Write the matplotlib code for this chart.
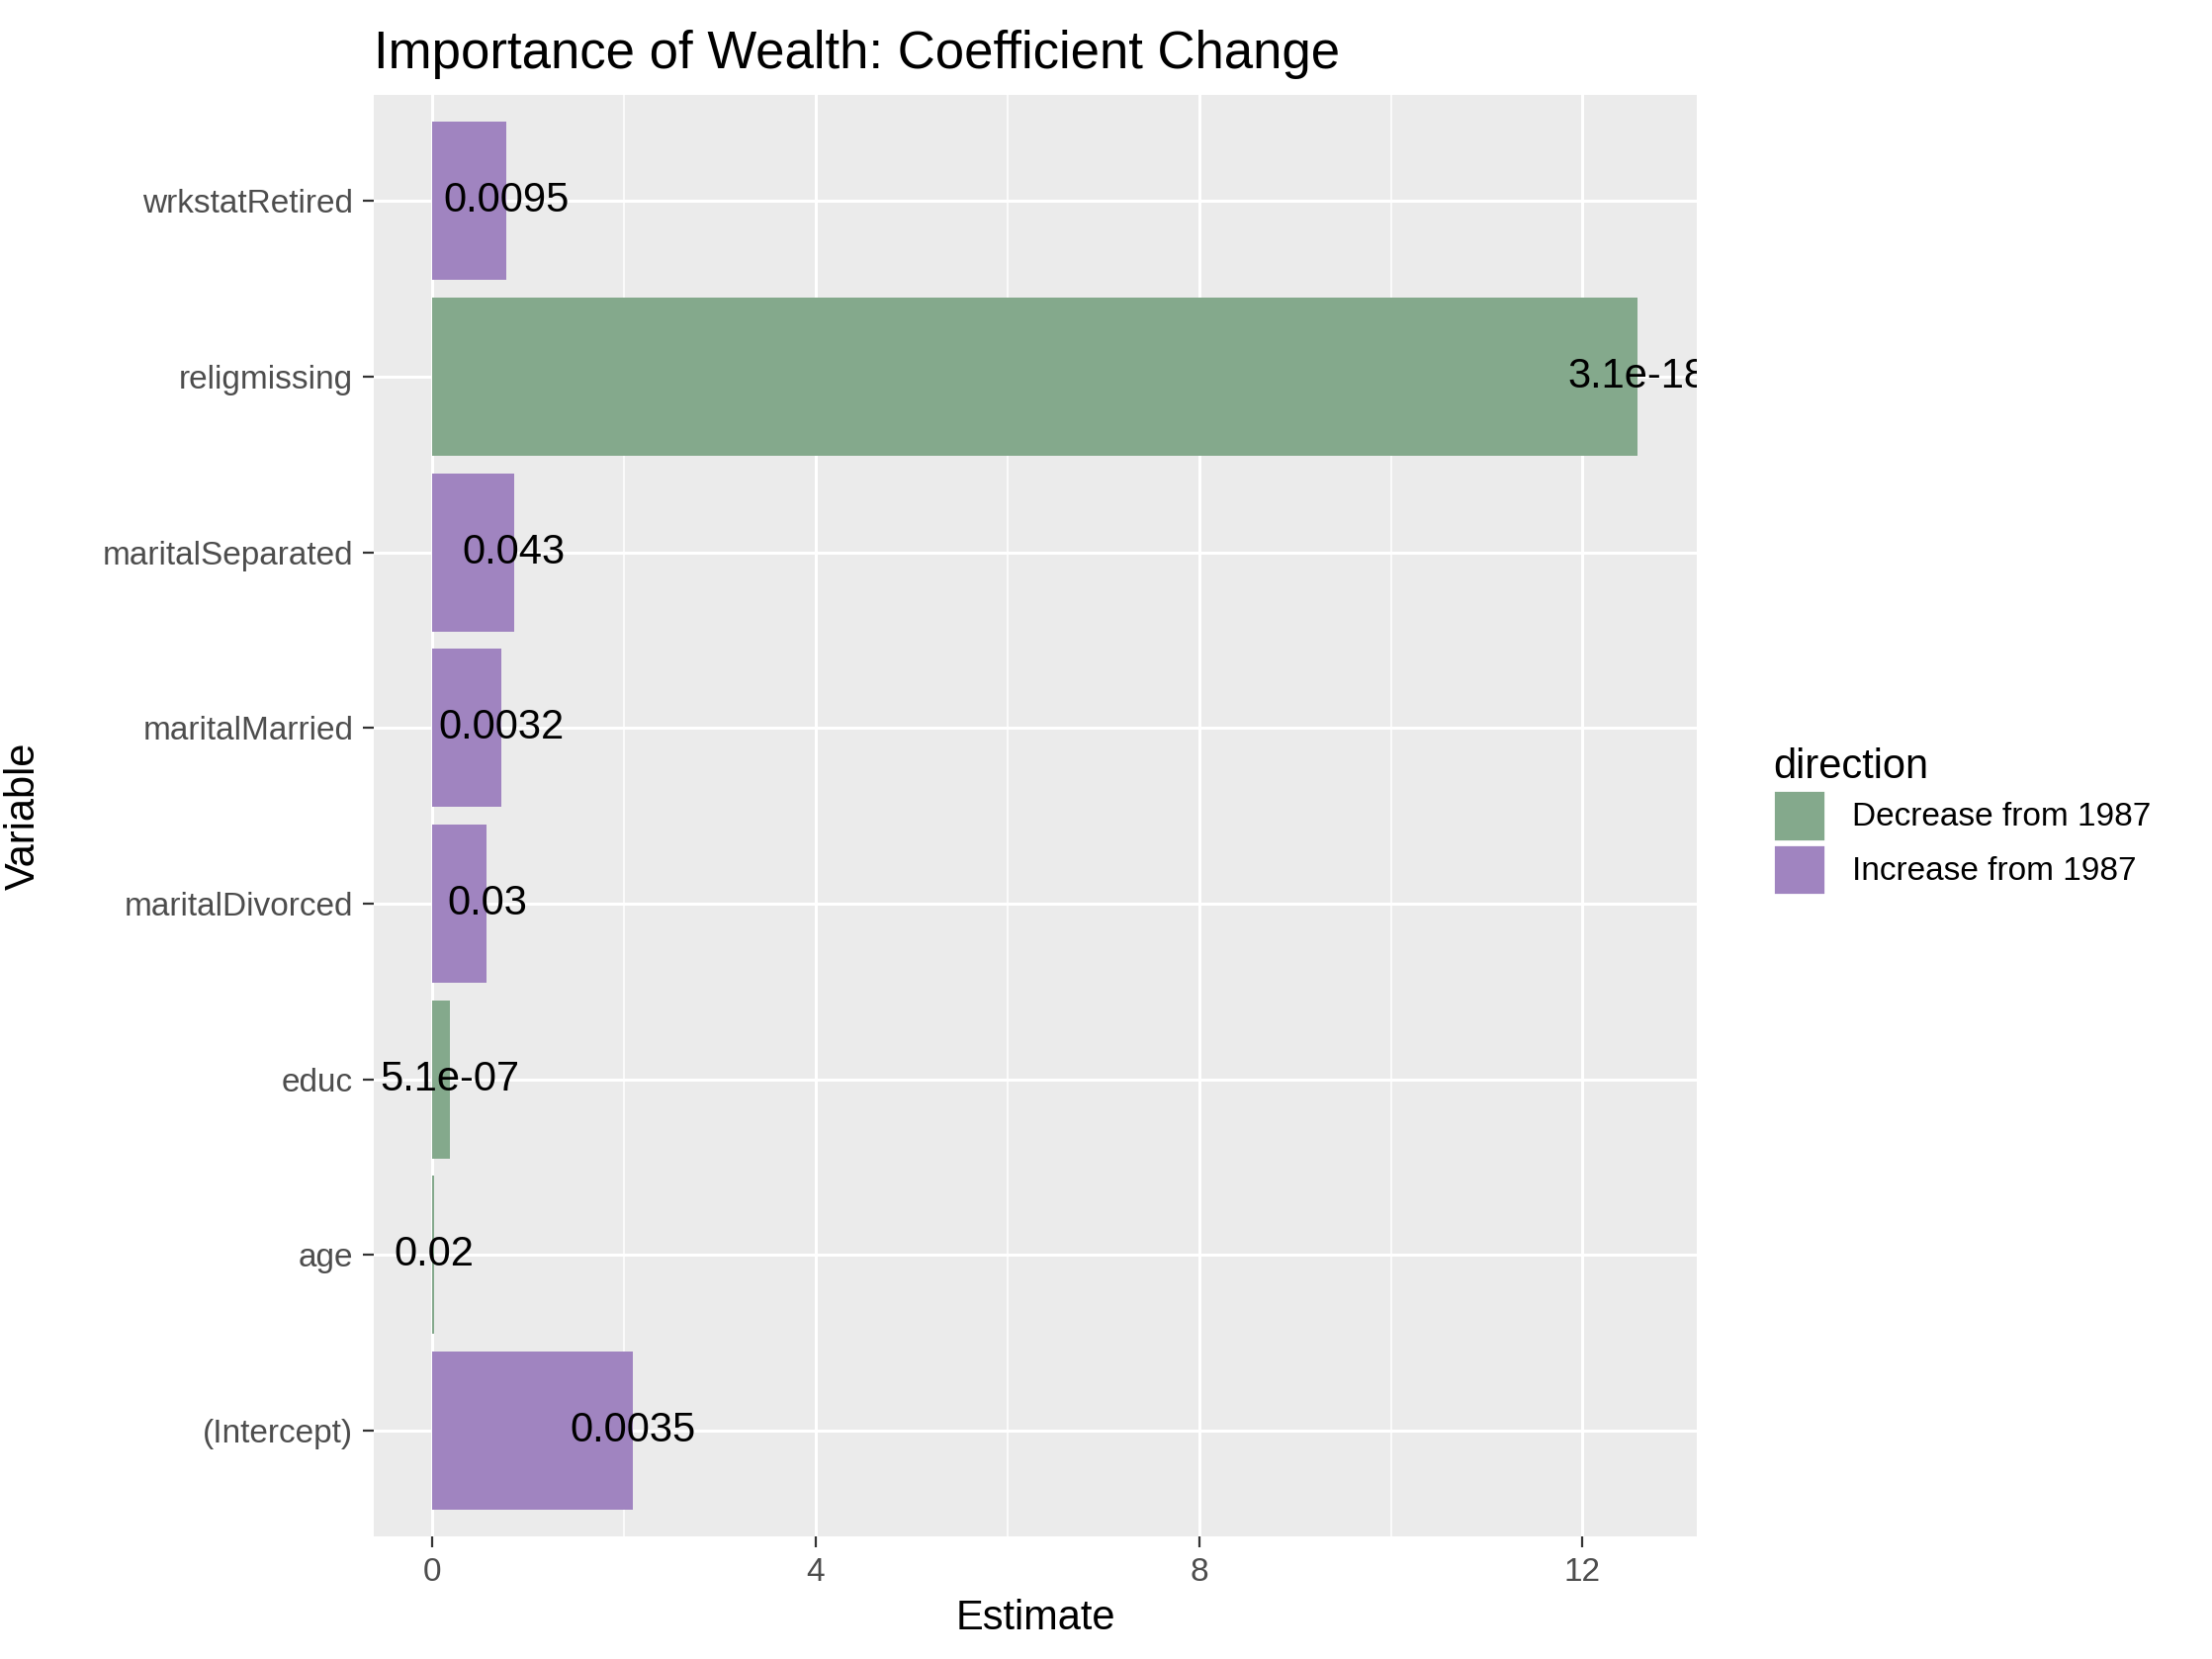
import matplotlib
matplotlib.use("Agg")
import matplotlib.pyplot as plt
from matplotlib.patches import Patch

plt.rcParams['font.family'] = ['Liberation Sans', 'DejaVu Sans']

variables = ["(Intercept)", "age", "educ", "maritalDivorced", "maritalMarried",
             "maritalSeparated", "religmissing", "wrkstatRetired"]
estimates = [2.09, 0.02, 0.18, 0.57, 0.72, 0.85, 12.57, 0.77]
labels = ["0.0035", "0.02", "5.1e-07", "0.03", "0.0032", "0.043", "3.1e-18", "0.0095"]
direction = ["Increase", "Decrease", "Decrease", "Increase", "Increase",
             "Increase", "Decrease", "Increase"]

colors = {"Decrease": "#84A98C", "Increase": "#A084C0"}

fig = plt.figure(figsize=(11.185, 8.39), dpi=200)
ax = fig.add_axes([0.169, 0.074, 0.598, 0.8685])
ax.set_facecolor("#EBEBEB")

ypos = list(range(len(variables)))
ax.barh(ypos, estimates, height=0.9, color=[colors[d] for d in direction], zorder=2)
for y, v, t in zip(ypos, estimates, labels):
    ax.text(v, y, t, ha="center", va="center", fontsize=15, color="black",
            zorder=3, clip_on=True)

ax.set_xlim(-0.61, 13.19)
ax.set_ylim(-0.6, len(variables) - 0.4)
ax.set_xticks([0, 4, 8, 12])
ax.set_xticks([2, 6, 10], minor=True)
ax.set_yticks(ypos)
ax.set_yticklabels(variables)
ax.grid(True, which="major", color="white", linewidth=1.1, zorder=0)
ax.grid(True, which="minor", axis="x", color="white", linewidth=0.55, zorder=0)
ax.set_axisbelow(True)
for s in ax.spines.values():
    s.set_visible(False)
ax.tick_params(which="major", colors="#333333", labelsize=12, length=4, color="#333333")
ax.tick_params(which="minor", length=0)
ax.tick_params(labelcolor="#4D4D4D")

ax.set_xlabel("Estimate", fontsize=15, labelpad=4)
ax.set_ylabel("Variable", fontsize=15, labelpad=8)
ax.yaxis.set_label_coords(-0.25, 0.5)
ax.set_title("Importance of Wealth: Coefficient Change", fontsize=19, loc="left", x=0.0, pad=10)

handles = [Patch(facecolor=colors["Decrease"], edgecolor="white", label="Decrease from 1987"),
           Patch(facecolor=colors["Increase"], edgecolor="white", label="Increase from 1987")]
leg = fig.legend(handles=handles, title="direction", loc="center left",
                 bbox_to_anchor=(0.788, 0.505), frameon=False, fontsize=12,
                 title_fontsize=15, handlelength=1.6, handleheight=2.0,
                 labelspacing=0.1, alignment="left")

fig.savefig("out.png", dpi=200)
